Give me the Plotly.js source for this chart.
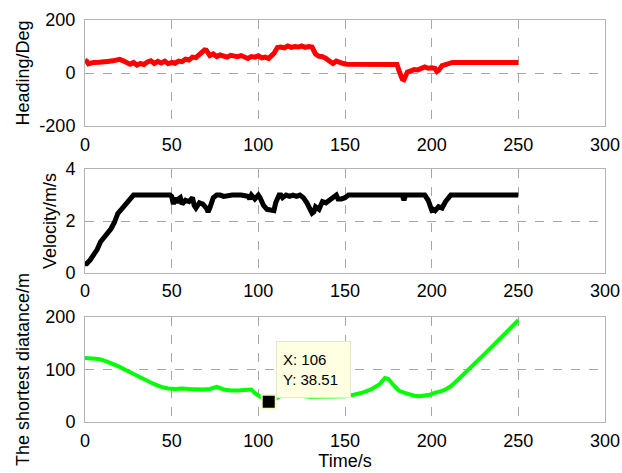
<!DOCTYPE html>
<html>
<head>
<meta charset="utf-8">
<script src="https://cdn.plot.ly/plotly-3.0.1.min.js"></script>
<style>html,body{margin:0;padding:0;background:#fff;}#chart{width:622px;height:473px;}</style>
</head>
<body>
<div id="chart"></div>
<script>
// Heading (deg) vs time (s)
const headingT = [0,1,2,3,5,8,10,13,16,18,20,22,24,26,28,30,32,34,36,38,40,42,44,46,48,50,52,54,56,58,60,62,64,66,68,69,70,72,74,76,78,80,82,84,86,88,90,92,94,96,98,100,102,104,106,107,109,111,113,115,117,119,121,123,125,127,129,131,133,135,137,139,141,143,145,147,149,151,160,170,179,180,181,182,183,184,185,186,188,190,192,194,196,198,200,202,203,204,206,208,210,212,220,230,240,250];
const headingV = [48,45,35,38,40,41,44,44,46,48,52,46,38,33,40,30,36,32,42,46,36,44,38,45,35,40,37,45,43,52,49,60,58,68,78,87,86,66,72,62,68,63,60,67,65,62,66,60,55,62,60,65,57,60,55,62,74,96,98,95,102,97,100,98,102,97,100,98,72,63,62,55,45,36,45,38,36,33,33,33,33,32,12,-8,-22,-25,-12,4,8,13,12,18,23,18,20,17,6,10,28,32,38,40,40,40,40,40];

// Velocity (m/s) vs time (s)
const velT = [0,1,3,5,7,9,11,13,15,17,19,21,23,25,27,28,30,35,40,45,49,50,51,52,53,54,55,56,58,60,62,63,64,66,68,70,71,72,74,76,78,80,85,90,94,95,96,98,100,101,103,105,107,109,110,112,113,114,116,118,120,122,124,126,128,130,131,132,133,135,137,139,141,143,145,146,148,150,152,155,170,183,184,185,186,190,196,198,200,201,202,204,206,208,210,211,220,235,250];
const velV = [0.35,0.35,0.5,0.7,0.9,1.2,1.35,1.5,1.7,1.95,2.3,2.45,2.6,2.75,2.9,3.0,3.0,3.0,3.0,3.0,3.0,2.95,2.65,2.9,2.7,2.85,2.9,2.65,2.8,2.75,2.9,2.6,2.5,2.7,2.65,2.5,2.35,2.5,2.9,3.0,3.0,2.95,3.0,3.0,2.95,2.85,3.0,2.85,3.0,2.9,2.6,2.45,2.4,2.4,2.7,3.0,3.0,2.9,3.0,2.95,3.0,2.95,3.0,2.9,2.7,2.45,2.3,2.35,2.55,2.45,2.75,2.7,2.8,2.9,3.0,2.85,2.85,2.9,3.0,3.0,3.0,3.0,2.8,3.0,3.0,3.0,3.0,2.8,2.42,2.45,2.4,2.55,2.5,2.75,2.9,3.0,3.0,3.0,3.0];

// Shortest distance (m) vs time (s)
const distT = [0,4,8,12,16,20,24,28,32,36,40,44,48,52,56,60,64,68,72,76,80,84,88,92,94,96,98,100,102,104,106,108,110,112,115,118,121,124,127,130,135,140,145,150,155,160,165,170,173,175,178,181,184,187,190,193,196,199,202,205,208,211,215,220,225,230,235,240,245,250];
const distV = [122,121,120,116,111,105,98,91,84,78,72,67,64,63,64,63,62,62,63,67,62,60,60,61,63,62,55,50,45,42,38.51,41,44,48,55,60,55,51,49,48,48,48,48,49,52,56,62,72,84,82,70,60,56,53,50,49,50,52,56,58,62,68,80,95,112,128,145,162,178,194];

// Data tip
const tipX = [106];
const tipY = [38.51];

// Tick labels
const xTicks = [0,50,100,150,200,250,300];
const headingTicks = [-200,0,200];
const headingTickText = ["-200","0","200"];
const velTicks = [0,2,4];
const distTicks = [0,100,200];
const yTitles = ["Heading/Deg", "Velocity/m/s", "The shortest diatance/m"];

const FONT = "Liberation Sans, Arial, sans-serif";
const gridColor = "#a6a6a6";
const lineColor = "#b4b4b4";

function xax(anchor) {
  return {
    anchor: anchor, domain: [0, 1], range: [0, 300], tickvals: xTicks,
    showline: true, mirror: true, linecolor: lineColor, linewidth: 1,
    showgrid: true, gridcolor: gridColor, griddash: "dash", gridwidth: 1,
    zeroline: false, ticks: "", ticklabelstandoff: 2,
    tickfont: {family: FONT, size: 18, color: "#000"}
  };
}
function yax(anchor, domain, range, tickvals, ticktext, title, standoff) {
  return {
    anchor: anchor, domain: domain, range: range, tickvals: tickvals, ticktext: ticktext,
    showline: true, mirror: true, linecolor: lineColor, linewidth: 1,
    showgrid: true, gridcolor: gridColor, griddash: "dash", gridwidth: 1,
    zeroline: false, ticks: "", ticklabelstandoff: 5,
    tickfont: {family: FONT, size: 18, color: "#000"},
    title: {text: title, font: {family: FONT, size: 18, color: "#000"}, standoff: standoff}
  };
}

const traces = [
  {x: headingT, y: headingV, xaxis: "x", yaxis: "y", mode: "lines",
   line: {color: "#ff0000", width: 5}, hoverinfo: "skip"},
  {x: velT, y: velV, xaxis: "x2", yaxis: "y2", mode: "lines",
   line: {color: "#000000", width: 5}, hoverinfo: "skip"},
  {x: distT, y: distV, xaxis: "x3", yaxis: "y3", mode: "lines",
   line: {color: "#00ff00", width: 4}, hoverinfo: "skip"},
  {x: tipX, y: tipY, xaxis: "x3", yaxis: "y3", mode: "markers",
   marker: {symbol: "square", size: 14, color: "#000", line: {color: "#f6f6c8", width: 2}},
   hoverinfo: "skip"}
];

const layout = {
  width: 622, height: 473,
  margin: {l: 85, r: 17, t: 20, b: 51},
  paper_bgcolor: "#ffffff", plot_bgcolor: "#ffffff",
  showlegend: false,
  font: {family: FONT, size: 18, color: "#000"},
  xaxis: xax("y"),
  xaxis2: xax("y2"),
  xaxis3: Object.assign(xax("y3"), {title: {text: "Time/s", font: {family: FONT, size: 18, color: "#000"}, standoff: 2}}),
  yaxis: yax("x", [0.736, 1], [-200, 200], headingTicks, headingTickText, yTitles[0], 5),
  yaxis2: yax("x2", [0.371, 0.629], [0, 4], velTicks, velTicks.map(String), yTitles[1], 4),
  yaxis3: yax("x3", [0, 0.261], [0, 200], distTicks, distTicks.map(String), yTitles[2], 11),
  annotations: [{
    x: tipX[0], y: tipY[0], xref: "x3", yref: "y3",
    xanchor: "left", yanchor: "bottom", xshift: 7, yshift: 4,
    showarrow: false, align: "left",
    text: "X: " + tipX[0] + "<br>Y: " + tipY[0],
    font: {family: FONT, size: 15, color: "#000"},
    bgcolor: "#ffffe1", bordercolor: "#e6e6c8", borderwidth: 1, borderpad: 6,
    width: 61, height: 43
  }]
};

Plotly.newPlot("chart", traces, layout, {displayModeBar: false, staticPlot: true});
</script>
</body>
</html>
